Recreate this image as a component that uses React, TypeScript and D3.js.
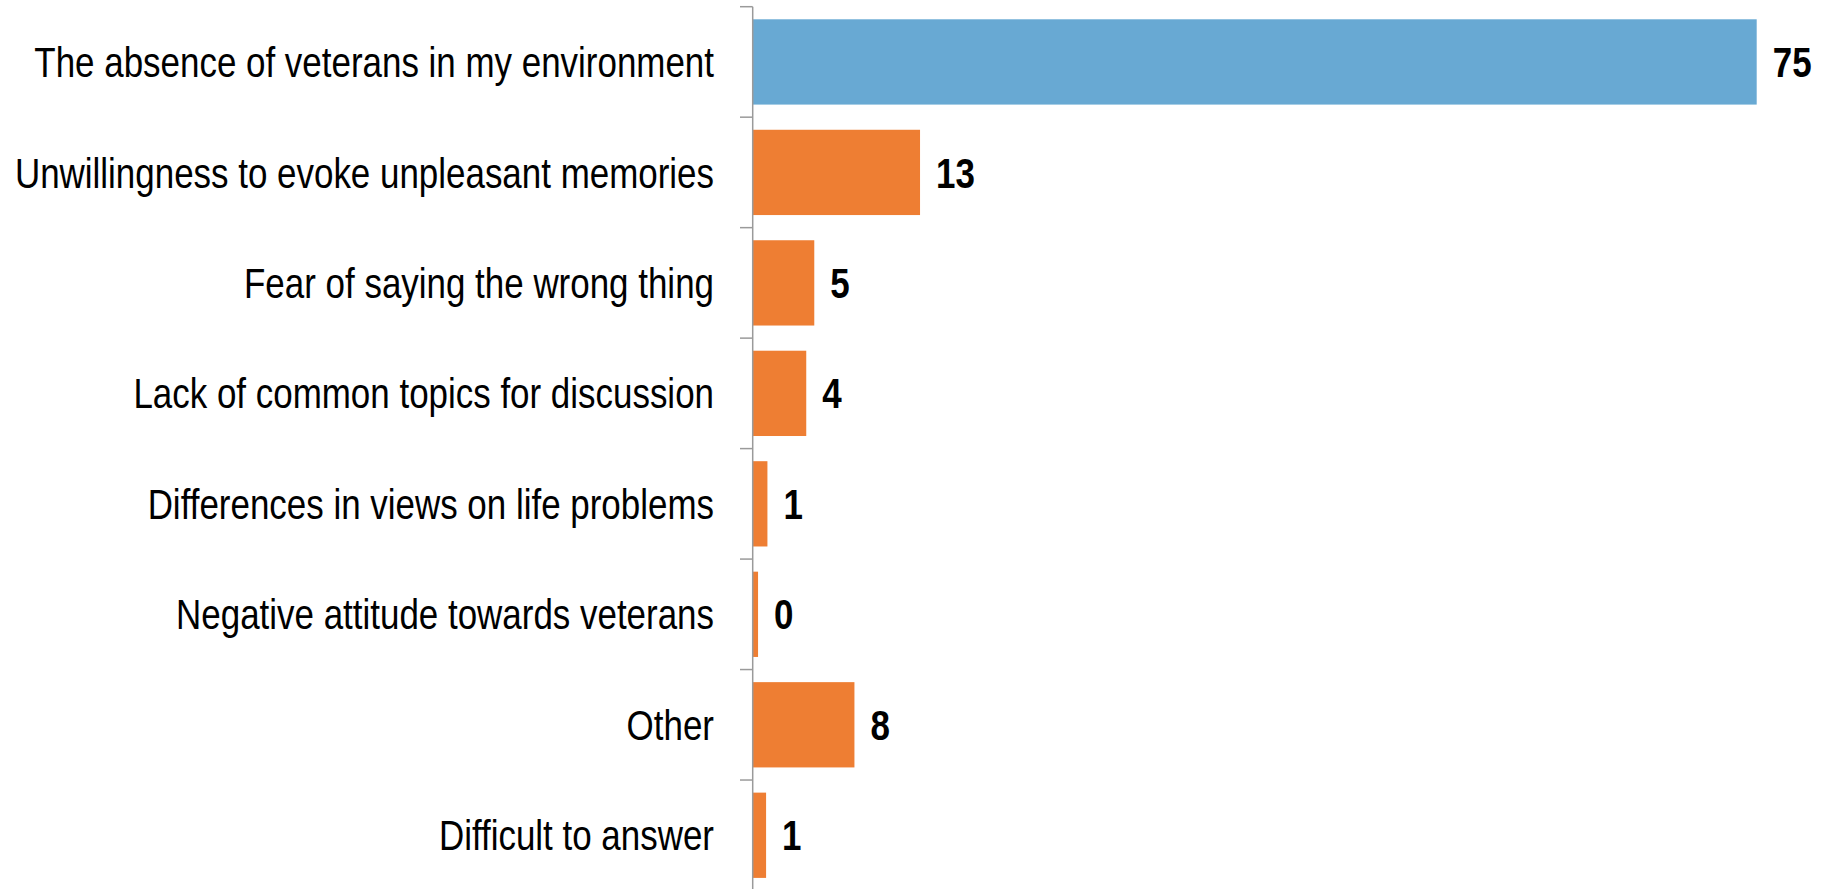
import React from "react";
import * as d3 from "d3";

const categories = [
  "The absence of veterans in my environment",
  "Unwillingness to evoke unpleasant memories",
  "Fear of saying the wrong thing",
  "Lack of common topics for discussion",
  "Differences in views on life problems",
  "Negative attitude towards veterans",
  "Other",
  "Difficult to answer",
];
const values = [75, 12.5, 4.6, 4.0, 1.1, 0.4, 7.6, 1.0];
const valueLabels = ["75", "13", "5", "4", "1", "0", "8", "1"];
const highlightIndex = 0;

const W = 1840;
const H = 889;
const FONT = "'Liberation Sans', Arial, sans-serif";
const NARROW = 0.832;

export default function App() {
  const x0 = 752.7;
  const x = d3.scaleLinear().domain([0, 75]).range([x0, 1756.7]);
  const y = d3
    .scaleBand<number>()
    .domain(d3.range(categories.length))
    .range([6.7, 890.5])
    .paddingInner(0.228)
    .paddingOuter(0.114);
  const step = y.step();
  const ticks = d3.range(categories.length).map((i) => 6.7 + i * step);
  const cy = (i: number) => (y(i) as number) + y.bandwidth() / 2;

  return (
    <svg
      width={W}
      height={H}
      style={{ position: "absolute", left: 0, top: 0, display: "block", background: "#fff" }}
    >
      {values.map((v, i) => (
        <rect
          key={i}
          x={x0}
          y={y(i)}
          width={x(v) - x0}
          height={y.bandwidth()}
          fill={i === highlightIndex ? "#68A9D3" : "#EE7E33"}
        />
      ))}
      <line x1={x0} x2={x0} y1={6.7} y2={H} stroke="#9a9a9a" strokeWidth={1.5} />
      {ticks.map((t, i) => (
        <line key={i} x1={740} x2={x0} y1={t} y2={t} stroke="#9a9a9a" strokeWidth={1.5} />
      ))}
      {categories.map((c, i) => (
        <text
          key={i}
          transform={`translate(714,${cy(i)}) scale(${NARROW},1)`}
          dy="0.36em"
          textAnchor="end"
          fontFamily={FONT}
          fontSize={42}
          fill="#000"
        >
          {c}
        </text>
      ))}
      {values.map((v, i) => (
        <text
          key={i}
          transform={`translate(${x(v) + 16},${cy(i)}) scale(${NARROW},1)`}
          dy="0.36em"
          textAnchor="start"
          fontFamily={FONT}
          fontWeight="bold"
          fontSize={42}
          fill="#000"
        >
          {valueLabels[i]}
        </text>
      ))}
    </svg>
  );
}
